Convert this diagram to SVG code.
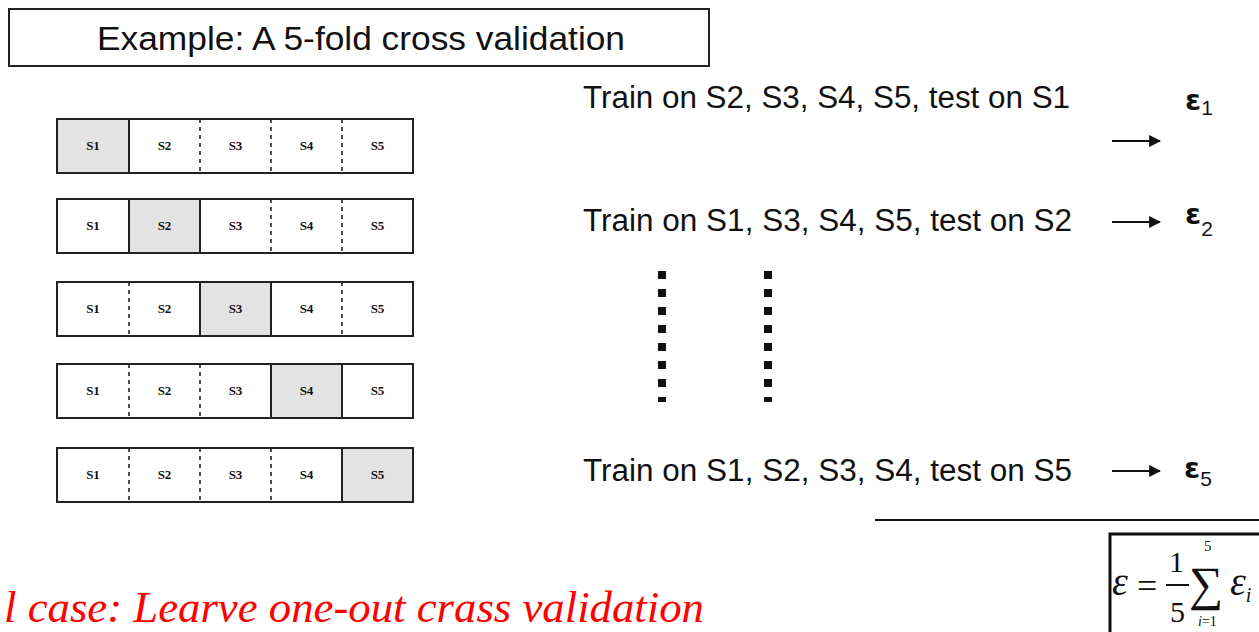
<svg xmlns="http://www.w3.org/2000/svg" width="1259" height="632" viewBox="0 0 1259 632">
  <defs>
    <style>
      .frame { fill: #ffffff; stroke: #222; stroke-width: 2; }
      .cell-on { fill: #e3e3e3; stroke: #222; stroke-width: 2; }
      .sep { stroke: #222; stroke-width: 1.6; stroke-dasharray: 4 4; }
      .lbl { font-family: "Liberation Serif", serif; font-weight: bold; font-size: 13px; fill: #111; text-anchor: middle; }
      .sans { font-family: "Liberation Sans", Arial, sans-serif; fill: #111; }
      .err { font-family: "DejaVu Sans", "Liberation Sans", sans-serif; font-weight: bold; fill: #111; }
      .math { font-family: "Liberation Serif", "Times New Roman", serif; fill: #111; }
      .arrow { stroke: #111; stroke-width: 2.2; fill: none; }
      .dots { stroke: #111; stroke-width: 8; stroke-dasharray: 8 10; }
    </style>
    <marker id="head" viewBox="0 0 10 10" refX="9" refY="5" markerWidth="5.5" markerHeight="5.5" orient="auto" markerUnits="strokeWidth">
      <path d="M0,0 L10,5 L0,10 z" fill="#111"/>
    </marker>
    <!-- one fold strip: five cells with dashed separators -->
    <g id="strip">
      <rect class="frame" x="57" y="0" width="356" height="54"/>
      <line class="sep" x1="129" y1="0" x2="129" y2="54"/>
      <line class="sep" x1="200" y1="0" x2="200" y2="54"/>
      <line class="sep" x1="271" y1="0" x2="271" y2="54"/>
      <line class="sep" x1="342" y1="0" x2="342" y2="54"/>
      <text class="lbl" x="93" y="31">S1</text>
      <text class="lbl" x="164.5" y="31">S2</text>
      <text class="lbl" x="235.5" y="31">S3</text>
      <text class="lbl" x="306.5" y="31">S4</text>
      <text class="lbl" x="377.5" y="31">S5</text>
    </g>
  </defs>

  <rect width="1259" height="632" fill="#ffffff"/>

  <!-- title -->
  <g id="title">
    <rect class="frame" x="9" y="9" width="700" height="57"/>
    <text class="sans" x="97" y="50" font-size="33" textLength="528" lengthAdjust="spacingAndGlyphs">Example: A 5-fold cross validation</text>
  </g>

  <!-- fold strips; the test fold is shaded -->
  <g id="fold1" transform="translate(0,119)">
    <use href="#strip"/>
    <rect class="cell-on" x="57" y="0" width="72" height="54"/>
    <text class="lbl" x="93" y="31">S1</text>
  </g>
  <g id="fold2" transform="translate(0,199)">
    <use href="#strip"/>
    <rect class="cell-on" x="129" y="0" width="71" height="54"/>
    <text class="lbl" x="164.5" y="31">S2</text>
  </g>
  <g id="fold3" transform="translate(0,282)">
    <use href="#strip"/>
    <rect class="cell-on" x="200" y="0" width="71" height="54"/>
    <text class="lbl" x="235.5" y="31">S3</text>
  </g>
  <g id="fold4" transform="translate(0,364)">
    <use href="#strip"/>
    <rect class="cell-on" x="271" y="0" width="71" height="54"/>
    <text class="lbl" x="306.5" y="31">S4</text>
  </g>
  <g id="fold5" transform="translate(0,448)">
    <use href="#strip"/>
    <rect class="cell-on" x="342" y="0" width="71" height="54"/>
    <text class="lbl" x="377.5" y="31">S5</text>
  </g>

  <!-- run descriptions -->
  <g id="run1">
    <text class="sans" x="583" y="108" font-size="31" textLength="487" lengthAdjust="spacingAndGlyphs">Train on S2, S3, S4, S5, test on S1</text>
    <text class="err" x="1185" y="110" font-size="29">ε<tspan class="sans" font-weight="normal" font-size="21" dy="5">1</tspan></text>
  </g>
  <g id="run2">
    <text class="sans" x="583" y="231" font-size="31" textLength="489" lengthAdjust="spacingAndGlyphs">Train on S1, S3, S4, S5, test on S2</text>
    <text class="err" x="1185" y="224" font-size="29">ε<tspan class="sans" font-weight="normal" font-size="21" dy="12">2</tspan></text>
  </g>
  <g id="run5">
    <text class="sans" x="583" y="481" font-size="31" textLength="489" lengthAdjust="spacingAndGlyphs">Train on S1, S2, S3, S4, test on S5</text>
    <text class="err" x="1184" y="478" font-size="29">ε<tspan class="sans" font-weight="normal" font-size="21" dy="8">5</tspan></text>
  </g>

  <!-- vertical ellipsis columns -->
  <g id="ellipsis">
    <line class="dots" x1="662" y1="271" x2="662" y2="402"/>
    <line class="dots" x1="768" y1="271" x2="768" y2="402"/>
  </g>

  <!-- connectors -->
  <g id="connectors">
    <line class="arrow" x1="1112" y1="141" x2="1160" y2="141" marker-end="url(#head)"/>
    <line class="arrow" x1="1112" y1="222" x2="1160" y2="222" marker-end="url(#head)"/>
    <line class="arrow" x1="1112" y1="471" x2="1160" y2="471" marker-end="url(#head)"/>
    <line x1="875" y1="520" x2="1259" y2="520" stroke="#111" stroke-width="2"/>
  </g>

  <!-- average error formula -->
  <g id="formula">
    <rect x="1110" y="534" width="160" height="110" fill="#ffffff" stroke="#111" stroke-width="3"/>
    <text class="math" x="1112" y="595" font-size="40" font-style="italic">ε</text>
    <text class="math" x="1137" y="598" font-size="36">=</text>
    <text class="math" x="1169" y="572" font-size="30">1</text>
    <line x1="1166" y1="585" x2="1189" y2="585" stroke="#111" stroke-width="2"/>
    <text class="math" x="1170" y="622" font-size="30">5</text>
    <text class="math" x="1189" y="600" font-size="48">∑</text>
    <text class="math" x="1204" y="551" font-size="15">5</text>
    <text class="math" x="1198" y="626" font-size="14" font-style="italic">i<tspan font-style="normal">=1</tspan></text>
    <text class="math" x="1230" y="595" font-size="40" font-style="italic">ε<tspan font-size="20" dy="7">i</tspan></text>
  </g>

  <!-- note -->
  <g id="note">
    <text x="4" y="622" font-family="'Liberation Serif', 'Times New Roman', serif" font-style="italic" font-size="44" fill="#ff0000" textLength="700" lengthAdjust="spacingAndGlyphs">l case: Learve one-out crass validation</text>
  </g>
</svg>
